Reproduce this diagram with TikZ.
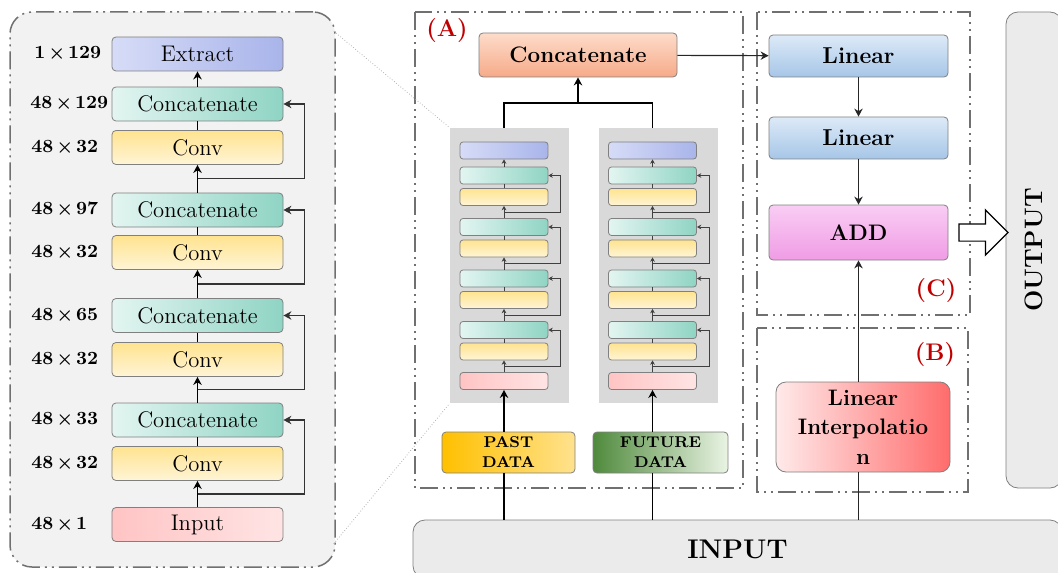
\documentclass[tikz,border=0pt]{standalone}
\usepackage{tikz}
\usetikzlibrary{arrows.meta}
\usetikzlibrary{shapes.arrows}
\usetikzlibrary{positioning}
\usetikzlibrary{calc}
\definecolor{edgegray}{HTML}{808080}
\definecolor{panelgray}{HTML}{707070}
\definecolor{tagred}{HTML}{C00000}
\definecolor{extL}{HTML}{D6DCF7}
\definecolor{extR}{HTML}{A9B4EA}
\definecolor{catL}{HTML}{E3F5F1}
\definecolor{catR}{HTML}{8FD4C4}
\definecolor{convT}{HTML}{FFE38F}
\definecolor{convB}{HTML}{FFF5D6}
\definecolor{inL}{HTML}{FFC4C4}
\definecolor{inR}{HTML}{FFE4E4}
\definecolor{joinT}{HTML}{FDDCCB}
\definecolor{joinB}{HTML}{F6AA89}
\definecolor{linT}{HTML}{DDEAF7}
\definecolor{linB}{HTML}{A6C6E8}
\definecolor{addT}{HTML}{F9CDF4}
\definecolor{addB}{HTML}{F09CE5}
\definecolor{liL}{HTML}{FFEAEA}
\definecolor{liR}{HTML}{FF6C6C}
\definecolor{pastL}{HTML}{FFC000}
\definecolor{pastR}{HTML}{FFE28E}
\definecolor{futL}{HTML}{4F8A3C}
\definecolor{futR}{HTML}{EAF4E4}
\tikzset{
    blk/.style = {align=center, inner sep=0pt, draw=edgegray, rounded corners=2pt, text=black},
    big/.style = {blk, minimum width=85.5pt, minimum height=17pt, font=\fontsize{11.3}{13}\selectfont},
    mini/.style = {blk, minimum width=44pt, minimum height=8.5pt, line width=0.4pt, rounded corners=1.5pt},
    ext_fill/.style = {left color=extL, right color=extR},
    cat_fill/.style = {left color=catL, right color=catR},
    conv_fill/.style = {top color=convT, bottom color=convB},
    in_fill/.style = {left color=inL, right color=inR},
    dim/.style = {anchor=west, inner sep=0pt, font=\fontsize{9.3}{11}\selectfont\bfseries},
    panel/.style = {draw=panelgray, line width=0.75pt, dash pattern=on 9pt off 2.5pt on 1pt off 2.5pt on 1pt off 2.5pt},
    tag/.style = {inner sep=0pt, text=tagred, font=\fontsize{12}{14}\selectfont\bfseries},
    bg_box/.style = {fill=black!15, minimum width=59.5pt, minimum height=137.5pt, inner sep=0pt},
    io_box/.style = {draw=edgegray, fill=black!8, rounded corners=6pt, inner sep=0pt, font=\fontsize{13.5}{15}\selectfont\bfseries},
    main_line/.style = {line width=0.8pt, black},
    skip_line/.style = {line width=0.6pt, black!80},
    mini_line/.style = {line width=0.4pt, black!75, >={Stealth[length=2.2pt, width=2.4pt]}},
    flow_line/.style = {line width=0.6pt, black!85},
    zoom_line/.style = {densely dotted, black!30, line width=0.4pt},
    out_arrow/.style = {single arrow, draw=black, fill=white, line width=0.6pt, inner sep=4pt, single arrow head extend=7pt, minimum height=24.5pt}
}
\begin{document}
\begin{tikzpicture}[x=0.5pt, y=-0.5pt, >={Stealth[length=4pt, width=4.2pt]}]
\useasboundingbox (0,0) rectangle (1058,572);

% zoomed block
\node[panel, fill=black!5, rounded corners=11pt, minimum width=162.5pt, minimum height=277.5pt] (zoom) at (172.5,289.5) {};
\node[big, ext_fill] (b_ext) at (197.5,54) {Extract};
\node[big, cat_fill] (b_cat1) at (197.5,104) {Concatenate};
\node[big, conv_fill] (b_conv1) at (197.5,147.5) {Conv};
\node[big, cat_fill] (b_cat2) at (197.5,210) {Concatenate};
\node[big, conv_fill] (b_conv2) at (197.5,252.5) {Conv};
\node[big, cat_fill] (b_cat3) at (197.5,315.5) {Concatenate};
\node[big, conv_fill] (b_conv3) at (197.5,359.5) {Conv};
\node[big, cat_fill] (b_cat4) at (197.5,420) {Concatenate};
\node[big, conv_fill] (b_conv4) at (197.5,463.5) {Conv};
\node[big, in_fill] (b_inp) at (197.5,524.5) {Input};

\node[dim] (d_ext) at (34,54) {1\,{\boldmath$\times$}\,129};
\node[dim] (d_cat1) at (30,104) {48\,{\boldmath$\times$}\,129};
\node[dim] (d_conv1) at (31,147.5) {48\,{\boldmath$\times$}\,32};
\node[dim] (d_cat2) at (31,210) {48\,{\boldmath$\times$}\,97};
\node[dim] (d_conv2) at (31,252.5) {48\,{\boldmath$\times$}\,32};
\node[dim] (d_cat3) at (31,315.5) {48\,{\boldmath$\times$}\,65};
\node[dim] (d_conv3) at (31,359.5) {48\,{\boldmath$\times$}\,32};
\node[dim] (d_cat4) at (31,420) {48\,{\boldmath$\times$}\,33};
\node[dim] (d_conv4) at (31,463.5) {48\,{\boldmath$\times$}\,32};
\node[dim] (d_inp) at (31,524.5) {48\,{\boldmath$\times$}\,1};

\draw[main_line,->] (b_cat1) -- (b_ext);
\foreach \k/\n in {1/cat2, 2/cat3, 3/cat4, 4/inp} {
    \draw[main_line] (b_conv\k) -- (b_cat\k);
    \draw[main_line,->] (b_\n) -- (b_conv\k);
    \draw[skip_line,->] ($(b_conv\k.south)!0.5!(b_\n.north)$) -| ([xshift=10.5pt]b_cat\k.east) -- (b_cat\k.east);
}

% (A) two small stacks
\draw[panel] (415,12) rectangle (743,488);
\node[tag] (tag_a) at (447,31) {(A)};
\foreach \s/\x in {p/504, f/652.5} {
    \node[bg_box] (\s_bg) at (\x+5.5,265.5) {};
    \node[mini, ext_fill] (\s_ext) at (\x,150.5) {};
    \node[mini, cat_fill] (\s_cat1) at (\x,175.5) {};
    \node[mini, conv_fill] (\s_conv1) at (\x,197) {};
    \node[mini, cat_fill] (\s_cat2) at (\x,227) {};
    \node[mini, conv_fill] (\s_conv2) at (\x,248.5) {};
    \node[mini, cat_fill] (\s_cat3) at (\x,278.5) {};
    \node[mini, conv_fill] (\s_conv3) at (\x,300) {};
    \node[mini, cat_fill] (\s_cat4) at (\x,330) {};
    \node[mini, conv_fill] (\s_conv4) at (\x,351.5) {};
    \node[mini, in_fill] (\s_inp) at (\x,381) {};
    \draw[mini_line,->] (\s_cat1) -- (\s_ext);
    \foreach \k/\n in {1/cat2, 2/cat3, 3/cat4, 4/inp} {
        \draw[mini_line] (\s_conv\k) -- (\s_cat\k);
        \draw[mini_line,->] (\s_\n) -- (\s_conv\k);
        \draw[mini_line,->] ($(\s_conv\k.south)!0.5!(\s_\n.north)$) -| ([xshift=6pt]\s_cat\k.east) -- (\s_cat\k.east);
    }
}
\draw[zoom_line] ([xshift=-1pt,yshift=-10pt]zoom.north east) -- (p_bg.north west);
\draw[zoom_line] ([xshift=-1pt,yshift=12pt]zoom.south east) -- (p_bg.south west);

\node[blk, top color=joinT, bottom color=joinB, minimum width=99pt, minimum height=22pt, font=\fontsize{11.2}{13}\selectfont\bfseries] (join) at (578,55) {Concatenate};
\coordinate (fork) at (578,103);
\draw[main_line] (p_ext |- p_bg.north) |- (fork) -| (f_ext |- f_bg.north);
\draw[main_line,->] (fork) -- (join);

\node[blk, left color=pastL, right color=pastR, minimum width=66.5pt, minimum height=20.5pt, font=\fontsize{7.8}{10}\selectfont\bfseries] (past) at (508.5,452.5) {PAST\\DATA};
\node[blk, left color=futL, right color=futR, minimum width=67.5pt, minimum height=20.5pt, font=\fontsize{7.8}{10}\selectfont\bfseries] (fut) at (660.5,452.5) {FUTURE\\DATA};
\draw[main_line,->] (p_inp |- past.north) -- (p_inp.south);
\draw[main_line,->] (f_inp |- fut.north) -- (f_inp.south);

% (C) and (B)
\draw[panel] (757,12) rectangle (970,315);
\draw[panel] (757,328) rectangle (968,492);
\node[tag] (tag_c) at (936,291) {(C)};
\node[tag] (tag_b) at (935,355) {(B)};
\node[blk, top color=linT, bottom color=linB, minimum width=89.5pt, minimum height=21pt, font=\fontsize{11.5}{13}\selectfont\bfseries] (lin1) at (858.5,56) {Linear};
\node[blk, top color=linT, bottom color=linB, minimum width=89.5pt, minimum height=21pt, font=\fontsize{11.5}{13}\selectfont\bfseries] (lin2) at (858.5,138) {Linear};
\node[blk, top color=addT, bottom color=addB, minimum width=89.5pt, minimum height=27.5pt, font=\fontsize{11.2}{13}\selectfont\bfseries] (add) at (858.5,232.5) {ADD};
\node[blk, rounded corners=5pt, left color=liL, right color=liR, minimum width=87pt, minimum height=45pt, font=\fontsize{11.2}{14.7}\selectfont\bfseries] (li) at (863,427) {Linear\\Interpolatio\\n};
\draw[flow_line,->] (join) -- (lin1);
\draw[flow_line,->] (lin1) -- (lin2);
\draw[flow_line,->] (lin2) -- (add);
\draw[flow_line,->] (add |- li.north) -- (add.south);

% input and output
\node[io_box, minimum width=324.5pt, minimum height=29pt] (inp) at (737.5,549) {INPUT};
\node[io_box, rotate=90, minimum width=238pt, minimum height=28pt, font=\fontsize{12.6}{15}\selectfont\bfseries] (out) at (1034,250) {OUTPUT};
\draw[main_line] (p_inp |- inp.north) -- (p_inp |- past.south);
\draw[main_line] (f_inp |- inp.north) -- (f_inp |- fut.south);
\draw[flow_line] (add |- inp.north) -- (add |- li.south);
\node[out_arrow, right=5pt of add] (arr) {};
\end{tikzpicture}
\end{document}
